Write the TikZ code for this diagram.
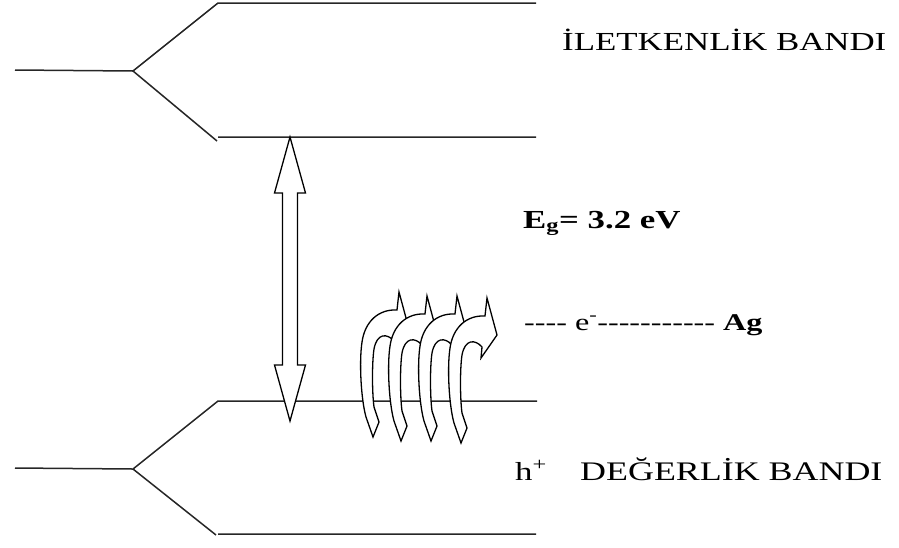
\documentclass[tikz,border=0pt]{standalone}
\usepackage{fontspec}
\setmainfont{Liberation Serif}
\newfontfamily\lblfont[FakeStretch=1.34,Ligatures=TeXOff]{Liberation Serif}
\tikzset{
  band/.style={line width=1.5pt, black!85},
  outl/.style={draw=black, line width=1.3pt, fill=white, line join=miter},
  lbl/.style={font=\lblfont\fontsize{26}{30}\selectfont, inner sep=0pt, anchor=base west},
  lblsmall/.style={font=\lblfont\fontsize{24}{28}\selectfont, inner sep=0pt, anchor=base west},
  pics/curlyarrow/.style={code={
    \path[outl] (0,0) -- (-7,-20) .. controls (-12,-38) and (-14,-75) .. (-11,-95)
      .. controls (-8,-116) and (6,-128) .. (24,-127) -- (26,-145) -- (36,-108)
      -- (20,-85) -- (21,-96) .. controls (14,-104) and (4,-104) .. (1,-88)
      .. controls (-1,-75) and (-1,-45) .. (1,-30) -- (6,-15) -- cycle;
  }}
}
\begin{document}
\begin{tikzpicture}[x=1pt,y=-1pt]
\useasboundingbox (0,0) rectangle (899,547);
% conduction band
\coordinate (cl) at (15,70);
\coordinate (cj) at (133,71);
\coordinate (cu) at (218,3);
\coordinate (cue) at (536,3);
\coordinate (cd) at (218,137);
\coordinate (cde) at (536,137);
\draw[band] (cl) -- (cj) -- (cu) -- (cue);
\draw[band] (cj) -- (217,141) (cd) -- (cde);
% valence band
\coordinate (vl) at (15,468);
\coordinate (vj) at (133,469);
\coordinate (vu) at (218,401);
\coordinate (vue) at (537,401);
\coordinate (vd) at (218,534);
\coordinate (vde) at (536,534);
\draw[band] (vl) -- (vj) -- (vu) -- (vue);
\draw[band] (vj) -- (216,535) (vd) -- (vde);
% double arrow (band gap)
\path[outl] (290,137) -- (305.5,193) -- (297.5,193) -- (297.5,365) -- (305.5,365)
  -- (290,421) -- (274.5,365) -- (282.5,365) -- (282.5,193) -- (274.5,193) -- cycle;
% curly arrows
\pic at (373,437) {curlyarrow};
\pic at (401,441) {curlyarrow};
\pic at (431,441) {curlyarrow};
\pic at (461,443) {curlyarrow};
% labels
\node[lbl] (cb) at (562,50) {İLETKENLİK BANDI};
\node[lbl] (eg) at (523,228) {\textbf{E\textsubscript{g}= 3.2 eV}};
\node[lblsmall] (ag) at (524,330) {---- e\textsuperscript{-}----------- \textbf{Ag}};
\node[lbl] (hp) at (515,480) {h\textsuperscript{+}};
\node[lbl, font=\lblfont\fontsize{26.8}{30}\selectfont] (vb) at (580,480) {DEĞERLİK BANDI};
\end{tikzpicture}
\end{document}
